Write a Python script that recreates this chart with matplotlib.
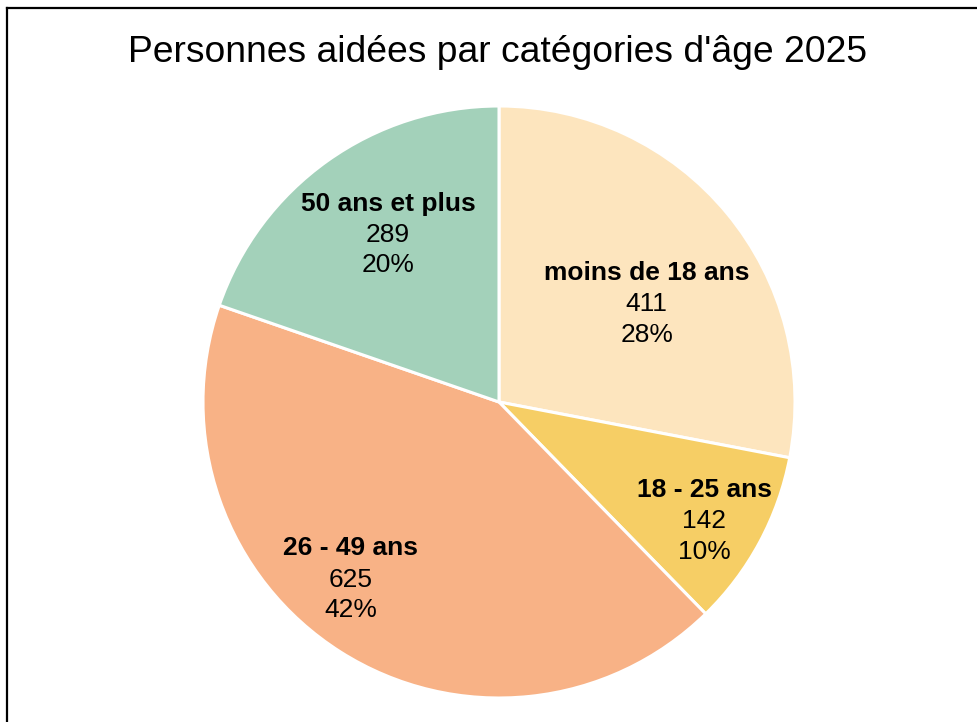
import matplotlib.pyplot as plt
import numpy as np
from matplotlib.lines import Line2D

plt.rcParams["font.family"] = ["Liberation Sans", "DejaVu Sans"]

categories = ["moins de 18 ans", "18 - 25 ans", "26 - 49 ans", "50 ans et plus"]
values = [411, 142, 625, 289]
percents = ["28%", "10%", "42%", "20%"]
colors = ["#FDE5BE", "#F6CE65", "#F8B286", "#A3D1BA"]
# label placement per slice: fraction of radius, angle shift (deg)
label_r = [0.60, 0.80, 0.78, 0.68]
label_shift = [-5.8, -1.7, -7.6, -2.0]

W, H = 978, 722
cx, cy, R = 499, 402, 296

fig = plt.figure(figsize=(W / 100, H / 100), dpi=100)
ax = fig.add_axes([0, 0, 1, 1])

wedges, _ = ax.pie(values, colors=colors, startangle=90, counterclock=False,
                   radius=1.0, wedgeprops=dict(edgecolor="white", linewidth=2.2))

for w, name, val, pct, r, sh in zip(wedges, categories, values, percents, label_r, label_shift):
    ang = np.deg2rad((w.theta1 + w.theta2) / 2 + sh)
    x, y = r * np.cos(ang), r * np.sin(ang)
    ax.annotate(name, (x, y), xytext=(0, 22), textcoords="offset points",
                ha="center", va="center", fontsize=19, fontweight="bold")
    ax.annotate(str(val), (x, y), xytext=(0, -0.8), textcoords="offset points",
                ha="center", va="center", fontsize=19)
    ax.annotate(pct, (x, y), xytext=(0, -22.5), textcoords="offset points",
                ha="center", va="center", fontsize=19)

ax.set_xlim(-cx / R, (W - cx) / R)
ax.set_ylim(-(H - cy) / R, cy / R)
ax.axis("off")

fig.text(498 / W, 1 - 53 / H, "Personnes aidées par catégories d'âge 2025",
         ha="center", va="center", fontsize=26.8)

fig.add_artist(Line2D([7 / W, 7 / W], [0, 1 - 7.5 / H], color="black", linewidth=1.6))
fig.add_artist(Line2D([7 / W, 1], [1 - 7.5 / H, 1 - 7.5 / H], color="black", linewidth=1.6))

fig.savefig("out.png", dpi=100)
